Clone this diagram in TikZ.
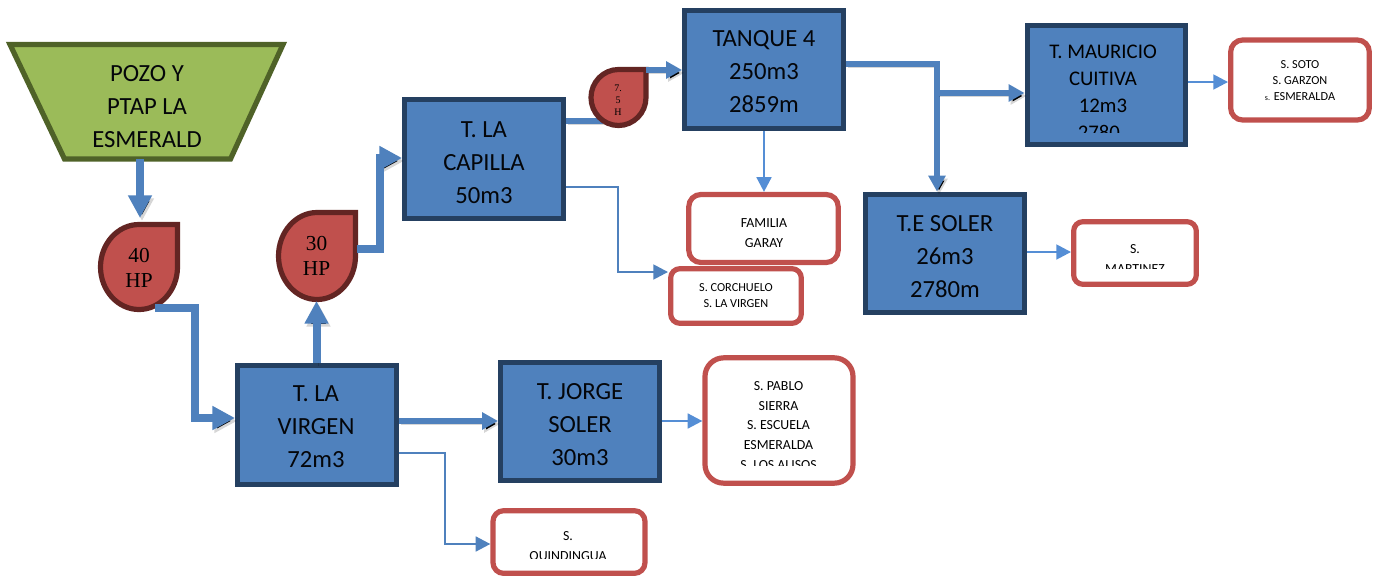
\documentclass[tikz,border=0pt]{standalone}
\usepackage{fontspec}
\setmainfont{Carlito}
\newfontfamily\pumpfont{Liberation Serif}
\usetikzlibrary{arrows.meta}
\definecolor{tankfill}{HTML}{4F81BD}
\definecolor{tankline}{HTML}{254061}
\definecolor{wellfill}{HTML}{9BBB59}
\definecolor{wellline}{HTML}{4F6228}
\definecolor{pumpfill}{HTML}{C0504D}
\definecolor{pumpline}{HTML}{632523}
\definecolor{thinblue}{HTML}{558ED5}
\tikzset{
  tank/.style={draw=tankline,fill=tankfill,line width=3.9pt,minimum width=119pt,minimum height=89pt,inner sep=0pt},
  sink/.style={draw=pumpfill,fill=white,line width=3.9pt,rounded corners=9pt,inner sep=0pt},
  bigtext/.style={font=\fontsize{18.5}{24.6}\selectfont,align=center,inner sep=0pt,text=black!90!tankline},
  midtext/.style={font=\fontsize{14.5}{19.5}\selectfont,align=center,inner sep=0pt},
  smalltext/.style={font=\fontsize{10.4}{14.8}\selectfont,align=center,inner sep=0pt},
  tinytext/.style={font=\fontsize{9.2}{12}\selectfont,align=center,inner sep=0pt},
  pumptext/.style={font=\pumpfont\fontsize{16}{19}\selectfont,align=center,inner sep=0pt},
  pumpshape/.style={draw=pumpline,fill=pumpfill,line width=3.9pt,line join=miter},
  softshadow/.style={preaction={draw=black,draw opacity=.16,transform canvas={shift={(1.5pt,-2.2pt)}}}},
  fatline/.style={draw=tankfill,line width=6pt,softshadow,-{Triangle[length=17pt,width=17pt]}},
  medline/.style={draw=tankfill,line width=3.8pt,softshadow,-{Triangle[length=12pt,width=12.5pt]}},
  plainmed/.style={draw=tankfill,line width=3.8pt,softshadow},
  thinline/.style={draw=thinblue,line width=1.9pt,-{Triangle[length=11pt,width=11pt]}},
  darkthin/.style={draw=tankfill,line width=1.9pt,-{Triangle[length=11pt,width=11pt]}}
}
\newcommand{\pumpdrop}[4]{%
  \begin{scope}[shift={(#1,#2)},xscale=#3,yscale=#4]
    \path[pumpshape] (1,-1) -- (0,-1) .. controls (-.55,-1) and (-1,-.55) .. (-1,0)
      .. controls (-1,.55) and (-.55,1) .. (0,1) .. controls (.55,1) and (1,.55) .. (1,0) -- cycle;
  \end{scope}}
\begin{document}
\begin{tikzpicture}[x=.75pt,y=-.75pt]
\useasboundingbox (0,0) rectangle (1375,576);
% source
\path[draw=wellline,fill=wellfill,line width=3.9pt] (10,44.5) -- (283,44.5) -- (230.5,159) -- (64.5,159) -- cycle;
\node[bigtext] (well) at (147,106.5) {POZO Y\\PTAP LA\\ESMERALD};
\coordinate (wellout) at (140,159);
% tanks
\node[tank] (virgen) at (317,425) {};
\node[bigtext] (virgentxt) at (316,426.5) {T. LA\\VIRGEN\\72m3};
\node[tank] (capilla) at (484,159) {};
\node[bigtext] (capillatxt) at (484,162.5) {T. LA\\CAPILLA\\50m3};
\node[tank] (tanque) at (764,69.5) {};
\node[bigtext] (tanquetxt) at (764,71.5) {TANQUE 4\\250m3\\2859m};
\node[tank] (mauricio) at (1106.5,85) {};
\begin{scope}
  \clip (1028,28) rectangle (1185,132);
  \node[font=\fontsize{15.6}{20.2}\selectfont,align=center,inner sep=0pt] (mauriciotxt) at (1103,92.5) {T. MAURICIO\\CUITIVA\\12m3\\2780{\fontsize{6}{6}\selectfont\ m}};
\end{scope}
\node[tank] (esoler) at (945,253.5) {};
\node[bigtext] (esolertxt) at (945,256.5) {T.E SOLER\\26m3\\2780m};
\node[tank] (jorge) at (580,421.5) {};
\node[bigtext] (jorgetxt) at (580,424.5) {T. JORGE\\SOLER\\30m3};
% consumers
\node[sink,minimum width=104pt,minimum height=60pt] (soto) at (1300,80) {};
\node[tinytext] (sototxt) at (1300,81) {S. SOTO\\S. GARZON\\{\fontsize{6}{6}\selectfont s.} ESMERALDA};
\node[sink,minimum width=112pt,minimum height=51pt] (familia) at (763.5,228.5) {};
\begin{scope}
  \clip (690,197) rectangle (838,246);
  \node[smalltext,font=\fontsize{10.4}{15.5}\selectfont] (familiatxt) at (764,233) {FAMILIA\\GARAY};
\end{scope}
\node[sink,minimum width=98pt,minimum height=41pt,rounded corners=7pt] (corchuelo) at (736,296) {};
\node[tinytext] (corchuelotxt) at (736,295.5) {S. CORCHUELO\\S. LA VIRGEN};
\node[sink,minimum width=92pt,minimum height=47pt,rounded corners=7pt] (martinez) at (1135,253) {};
\begin{scope}
  \clip (1075,224) rectangle (1195,268.5);
  \node[smalltext,font=\fontsize{10.4}{15.5}\selectfont] (martineztxt) at (1135,259) {S.\\MARTINEZ};
\end{scope}
\node[sink,minimum width=111pt,minimum height=94pt,rounded corners=14pt] (pablo) at (779,420.5) {};
\begin{scope}
  \clip (708,360) rectangle (850,465);
  \node[smalltext] (pablotxt) at (778.5,425.5) {S. PABLO\\SIERRA\\S. ESCUELA\\ESMERALDA\\S. LOS ALISOS};
\end{scope}
\node[sink,minimum width=114pt,minimum height=47pt,rounded corners=8pt] (quindingua) at (569,542) {};
\begin{scope}
  \clip (495,513) rectangle (643,558);
  \node[smalltext,font=\fontsize{10.4}{15.2}\selectfont] (quindinguatxt) at (568,547) {S.\\QUINDINGUA};
\end{scope}
% connector under the small pump
\coordinate (in75) at (603,121);
\draw[plainmed] (capilla.east |- 0,121) -- (in75);
% pumps
\pumpdrop{139}{267}{38.5}{42.5}
\node[pumptext] (p40) at (139,268) {40\\HP};
\pumpdrop{317}{256}{38.5}{43.5}
\node[pumptext] (p30) at (316.5,256) {30\\HP};
\pumpdrop{618.5}{97.5}{27.5}{28}
\begin{scope}
  \clip (600,80) rectangle (640,114);
  \node[font=\pumpfont\fontsize{7.5}{9.2}\selectfont,align=center,inner sep=0pt] (p75) at (618,100) {7.\\5\\H};
\end{scope}
% connectors
\coordinate (p40top) at (140,218);
\coordinate (p30bot) at (316.5,301);
\coordinate (p75out) at (646,70);
\coordinate (tee) at (937,93);
\draw[fatline] (wellout) -- (p40top);
\draw[fatline] (155,308) -| (195,418) -- (virgen.west |- 0,418);
\draw[fatline] (316.5,363) -- (p30bot);
\draw[fatline] (357,249) -| (380,158) -- (capilla.west |- 0,158);
\draw[medline] (p75out) -- (tanque.west |- 0,70);
\draw[medline] (tanque.east |- 0,64) -| (esoler.north -| 937,0);
\draw[medline] (tee) -- (mauricio.west |- 0,93);
\draw[medline] (virgen.east |- 0,421) -- (jorge.west |- 0,421);
\draw[darkthin] (capilla.east |- 0,187) -| (618,272) -- (corchuelo.west |- 0,272);
\draw[darkthin] (virgen.east |- 0,453) -| (445,544) -- (quindingua.west |- 0,544);
\draw[thinline] (tanque.south -| 764,0) -- (familia.north -| 764,0);
\draw[thinline] (mauricio.east |- 0,82) -- (soto.west |- 0,82);
\draw[thinline] (esoler.east |- 0,252) -- (martinez.west |- 0,252);
\draw[thinline] (jorge.east |- 0,421) -- (pablo.west |- 0,421);
\end{tikzpicture}
\end{document}
